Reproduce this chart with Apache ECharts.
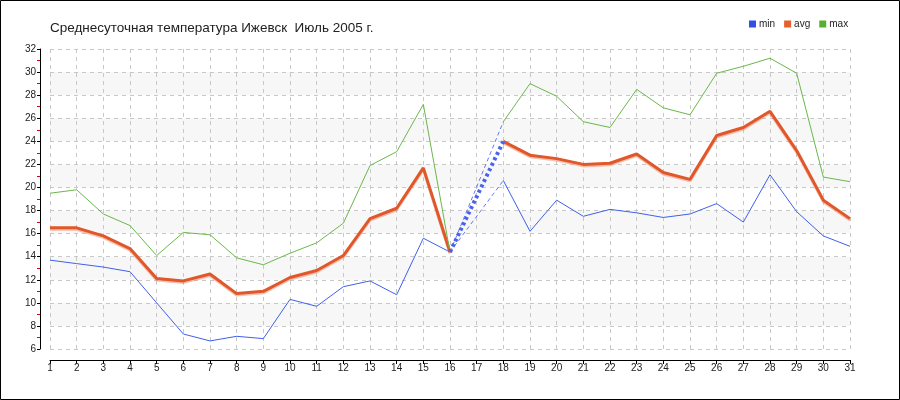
<!DOCTYPE html>
<html>
<head>
<meta charset="utf-8">
<script src="https://cdn.jsdelivr.net/npm/echarts@6/dist/echarts.min.js"></script>
<style>
html,body{margin:0;padding:0;background:#fff;}
#chart{width:900px;height:400px;}
</style>
</head>
<body>
<div id="chart"></div>
<script>
const days = ['1','2','3','4','5','6','7','8','9','10','11','12','13','14','15','16','17','18','19','20','21','22','23','24','25','26','27','28','29','30','31'];
const minT = [13.7, 13.4, 13.1, 12.7, 10.0, 7.3, 6.7, 7.1, 6.9, 10.3, 9.7, 11.4, 11.9, 10.7, 15.6, 14.4, null, 20.6, 16.2, 18.9, 17.5, 18.1, 17.8, 17.4, 17.7, 18.6, 17.0, 21.1, 17.9, 15.8, 14.9];
const avgT = [16.5, 16.5, 15.8, 14.7, 12.1, 11.9, 12.5, 10.8, 11.0, 12.2, 12.8, 14.1, 17.3, 18.2, 21.7, 14.4, null, 24.0, 22.8, 22.5, 22.0, 22.1, 22.9, 21.3, 20.7, 24.5, 25.2, 26.6, 23.2, 18.9, 17.3];
const maxT = [19.5, 19.8, 17.7, 16.7, 14.1, 16.1, 15.9, 13.9, 13.3, 14.3, 15.2, 16.9, 21.9, 23.1, 27.2, 14.4, null, 25.7, 29.0, 27.9, 25.7, 25.2, 28.5, 26.9, 26.3, 29.9, 30.5, 31.2, 29.9, 20.9, 20.5];
const titleText = 'Среднесуточная температура Ижевск  Июль 2005 г.';

function gapData(arr) {
  return arr.map((v, i) => {
    if (v == null) return null;
    const prevNull = i > 0 && arr[i - 1] == null;
    const nextNull = i < arr.length - 1 && arr[i + 1] == null;
    return (prevNull || nextNull) ? v : null;
  });
}

const FONT = 'Liberation Sans, Arial, sans-serif';
const chart = echarts.init(document.getElementById('chart'));
const gapColor = '#4a62f0';
chart.setOption({
  animation: false,
  backgroundColor: '#fff',
  textStyle: { fontFamily: FONT },
  title: {
    text: titleText, left: 50, top: 21, padding: 0,
    textStyle: { fontSize: 13.5, fontWeight: 'normal', color: '#222', fontFamily: FONT }
  },
  legend: {
    data: ['min', 'avg', 'max'],
    left: 749, top: 19, padding: 0,
    icon: 'rect', itemWidth: 7, itemHeight: 7, itemGap: 9,
    textStyle: { fontSize: 10, color: '#222', padding: [0, 0, 0, -2], fontFamily: FONT }
  },
  grid: { left: 50, right: 50, top: 49, bottom: 51, containLabel: false },
  xAxis: {
    type: 'category', data: days, boundaryGap: false, offset: 11,
    axisLine: { lineStyle: { color: '#000', width: 1 } },
    axisTick: { show: true, length: 4, alignWithLabel: true, lineStyle: { color: '#000' } },
    axisLabel: { fontSize: 10, color: '#222', margin: 3, interval: 0 },
    splitLine: { show: true, lineStyle: { color: '#c8c8c8', type: [4, 4] } }
  },
  yAxis: {
    type: 'value', min: 6, max: 32, interval: 2, offset: 10,
    axisLine: { show: true, lineStyle: { color: '#000', width: 1 } },
    axisTick: { show: true, length: 3, lineStyle: { color: '#000' } },
    minorTick: { show: true, splitNumber: 2, length: 3, lineStyle: { color: '#e00000' } },
    axisLabel: { fontSize: 10, color: '#222', margin: 4 },
    splitLine: { show: true, lineStyle: { color: '#c8c8c8', type: [4, 4] } },
    splitArea: { show: true, areaStyle: { color: ['rgba(255,255,255,0)', '#f7f7f7'] } }
  },
  graphic: [{
    type: 'rect', shape: { x: 0.5, y: 0.5, width: 899, height: 399 },
    style: { fill: 'none', stroke: '#000', lineWidth: 1 }, silent: true, z: 100
  }],
  series: [
    { name: 'min', type: 'line', data: minT, showSymbol: false, symbol: 'none', connectNulls: false,
      color: '#2f4fe8', lineStyle: { color: '#4060ec', width: 1 } },
    { name: 'avg', type: 'line', data: avgT, showSymbol: false, symbol: 'none', connectNulls: false,
      color: '#e8602c', lineStyle: { color: '#e0582a', width: 3, shadowColor: 'rgba(240,140,110,0.55)', shadowOffsetY: 1.5, shadowBlur: 0 } },
    { name: 'max', type: 'line', data: maxT, showSymbol: false, symbol: 'none', connectNulls: false,
      color: '#55b030', lineStyle: { color: '#6ab84a', width: 1 } },
    { name: 'gap-min', type: 'line', data: gapData(minT), connectNulls: true, symbol: 'none', z: 5,
      lineStyle: { color: gapColor, width: 1, type: [4, 3], opacity: 0.85 } },
    { name: 'gap-avg', type: 'line', data: gapData(avgT), connectNulls: true, symbol: 'none', z: 5,
      lineStyle: { color: gapColor, width: 4, type: [3, 3] } },
    { name: 'gap-max', type: 'line', data: gapData(maxT), connectNulls: true, symbol: 'none', z: 5,
      lineStyle: { color: gapColor, width: 1, type: [4, 3], opacity: 0.85 } }
  ]
});
</script>
</body>
</html>
